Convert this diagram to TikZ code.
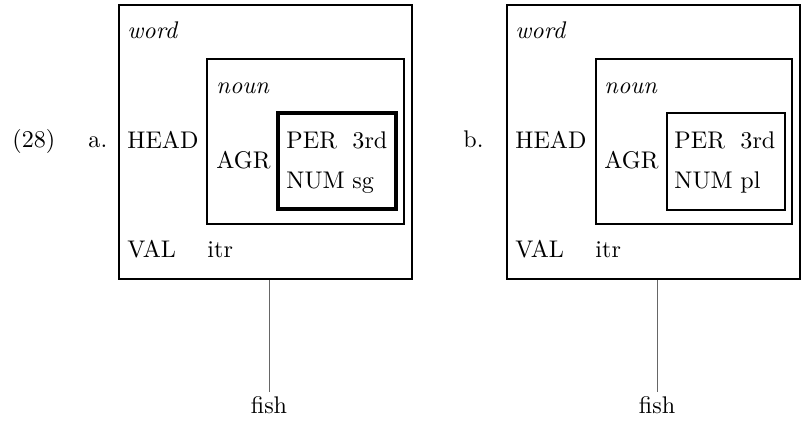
\documentclass[tikz,border=0pt]{standalone}
\usetikzlibrary{fit}
\begin{document}
\begin{tikzpicture}[x=0.415pt,y=-0.415pt,
  lab/.style={anchor=base west,inner sep=0pt},
  avm/.style={draw,inner sep=0pt,line width=1.2pt},
  conn/.style={draw=black!60,line width=0.4pt}]
\useasboundingbox (0,0) rectangle (801,421);
% labels
\node[lab] (ex) at (12,147) {(28)};
\node[lab] (la) at (88,147) {a.};
\node[lab] (lb) at (463,147) {b.};
% ---- panel a ----
\node[avm,fit={(119,5) (412,279)}] (outerA) {};
\node[avm,fit={(207,59) (404,224)}] (nounA) {};
\node[avm,line width=1.45pt,fit={(278,113) (396,209)}] (innerA) {};
\node[lab] (wordA) at (127,38) {\itshape word};
\node[lab] (headA) at (127,148) {HEAD};
\node[lab] (nountA) at (216,93) {\itshape noun};
\node[lab] (agrA) at (216,168) {AGR};
\node[lab] (perA) at (286,148) {PER};
\node[lab] (thirdA) at (352,148) {3rd};
\node[lab] (numA) at (286,188) {NUM};
\node[lab] (sgA) at (352,188) {sg};
\node[lab] (valA) at (127,257) {VAL};
\node[lab] (itrA) at (207,257) {itr};
\node[anchor=base,inner sep=1.6pt] (fishA) at (269,413) {fish};
\draw[conn] (fishA.north) -- (fishA.north |- outerA.south);
% ---- panel b ----
\node[avm,fit={(507,5) (800,279)}] (outerB) {};
\node[avm,fit={(596,59) (792,224)}] (nounB) {};
\node[avm,line width=1pt,fit={(667,113) (785,210)}] (innerB) {};
\node[lab] (wordB) at (515,38) {\itshape word};
\node[lab] (headB) at (515,148) {HEAD};
\node[lab] (nountB) at (604,93) {\itshape noun};
\node[lab] (agrB) at (604,168) {AGR};
\node[lab] (perB) at (674,148) {PER};
\node[lab] (thirdB) at (740,148) {3rd};
\node[lab] (numB) at (674,188) {NUM};
\node[lab] (plB) at (740,188) {pl};
\node[lab] (valB) at (515,257) {VAL};
\node[lab] (itrB) at (595,257) {itr};
\node[anchor=base,inner sep=1.6pt] (fishB) at (657,413) {fish};
\draw[conn] (fishB.north) -- (fishB.north |- outerB.south);
\end{tikzpicture}
\end{document}
